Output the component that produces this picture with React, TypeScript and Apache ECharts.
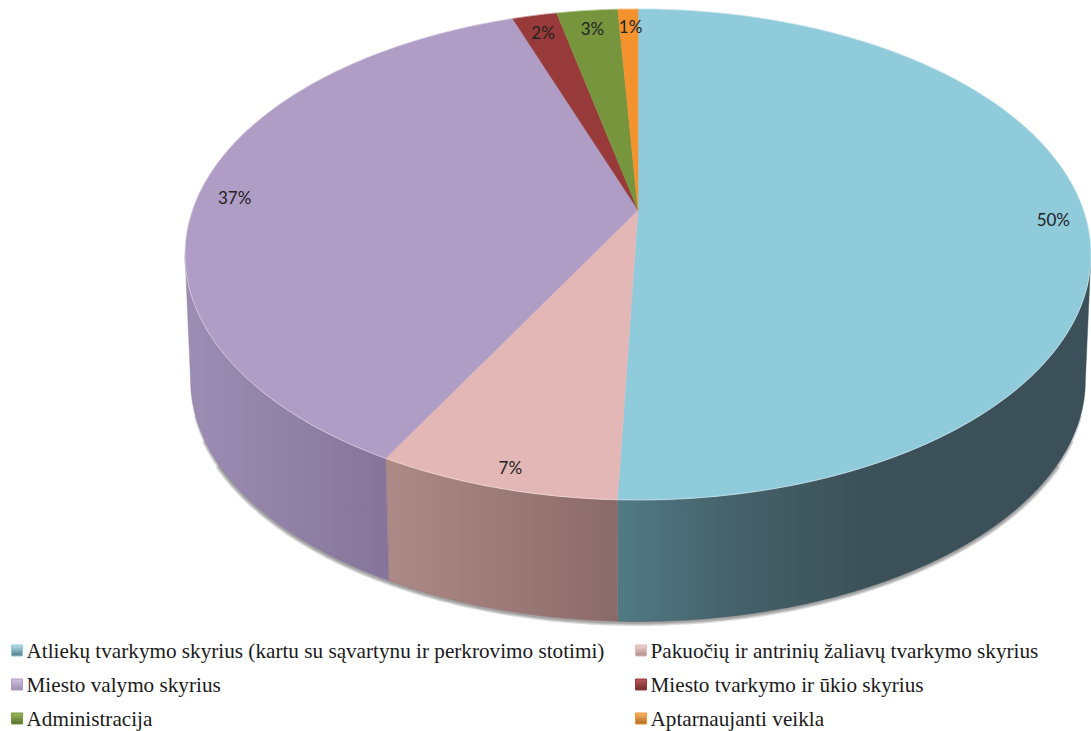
import React, { useEffect, useRef } from "react";
import * as echarts from "echarts";

const categories = [
  "Atliekų tvarkymo skyrius (kartu su sąvartynu ir perkrovimo stotimi)",
  "Pakuočių ir antrinių žaliavų tvarkymo skyrius",
  "Miesto valymo skyrius",
  "Miesto tvarkymo ir ūkio skyrius",
  "Administracija",
  "Aptarnaujanti veikla",
];
const values = [50.6, 7.3, 36.75, 1.9, 2.6, 0.85];
const percentLabels = ["50%", "7%", "37%", "2%", "3%", "1%"];
const topColors = ["#90CBDC", "#E3B7B5", "#AF9DC6", "#983A3A", "#76953C", "#F4922E"];
const wallColors = [
  ["#517A85", "#3B5058"],
  ["#AE8A87", "#8A6A69"],
  ["#9C8DB4", "#85759A"],
  ["#6E2A2A", "#5C2222"],
  ["#566D2C", "#4A5E25"],
  ["#B06A22", "#97591B"],
];
const legendIconLight = ["#B5E0EC", "#F2D5D3", "#CFC1E0", "#C05A5A", "#9DBD5C", "#FBB565"];

// perspective model of the pie disc
const CX = 638;
const K = 0.181;
const TOP = { cy: 210, rx: 445.5, ry: 237.5 };
const BOTTOM = { cy: 337, rx: 440, ry: 233 };
const LABEL_RADIUS = 0.925;
// angle (from the top, clockwise) where the disc is widest on screen: the wall starts there
const WALL_START = 1.752;
// soft shadow under the wall: stroke width and how far it stays from the wall's outer ends
const SHADOW_LAYERS = [
  { width: 7, trim: 0.34 },
  { width: 4.5, trim: 0.24 },
  { width: 2.5, trim: 0.14 },
];

const total = values.reduce((a, b) => a + b, 0);

function project(disc: { cy: number; rx: number; ry: number }, t: number, r = 1): number[] {
  const x = Math.sin(t) * r;
  const y = -Math.cos(t) * r;
  const d = 1 - K * y;
  return [CX + (disc.rx * x) / d, disc.cy + (disc.ry * y) / d];
}

function arc(disc: { cy: number; rx: number; ry: number }, a: number, b: number): number[][] {
  const n = Math.max(2, Math.ceil(Math.abs(b - a) / 0.01));
  const pts: number[][] = [];
  for (let i = 0; i <= n; i++) pts.push(project(disc, a + ((b - a) * i) / n));
  return pts;
}

function makeRenderItem(index: number) {
  return (_params: any, api: any) => {
    let before = 0;
    for (let i = 0; i < index; i++) before += values[i];
    const value = api.value(0);
    const a = (before / total) * Math.PI * 2;
    const b = ((before + value) / total) * Math.PI * 2;
    const mid = (a + b) / 2;
    const children: any[] = [];

    const wa = Math.max(a, WALL_START);
    const wb = Math.min(b, Math.PI * 2 - WALL_START);
    if (wb > wa) {
      const wall = [...arc(TOP, wa, wb), ...arc(BOTTOM, wb, wa)];
      SHADOW_LAYERS.forEach((layer) => {
        const sa = Math.max(a, WALL_START + layer.trim);
        const sb = Math.min(b, Math.PI * 2 - WALL_START - layer.trim);
        if (sb <= sa) return;
        children.push({
          type: "polyline",
          z2: 0,
          y: 1,
          shape: { points: arc(BOTTOM, sa, sb) },
          style: { fill: "none", stroke: "rgba(70,70,70,0.2)", lineWidth: layer.width },
        });
      });
      const stops =
        index === 0
          ? [
              { offset: 0, color: wallColors[0][0] },
              { offset: 0.25, color: "#456169" },
              { offset: 0.55, color: wallColors[0][1] },
              { offset: 1, color: wallColors[0][1] },
            ]
          : [
              { offset: 0, color: wallColors[index][0] },
              { offset: 1, color: wallColors[index][1] },
            ];
      children.push({
        type: "polygon",
        z2: 1,
        shape: { points: wall },
        style: {
          fill: new echarts.graphic.LinearGradient(0, 0, 1, 0, stops),
          stroke: wallColors[index][1],
          lineWidth: 0.4,
        },
      });
    }
    children.push({
      type: "polygon",
      z2: 2,
      shape: { points: [[CX, TOP.cy], ...arc(TOP, a, b)] },
      style: { fill: topColors[index], stroke: topColors[index], lineWidth: 0.5 },
    });
    children.push({
      type: "polyline",
      z2: 3,
      shape: { points: arc(TOP, a, b) },
      style: { fill: "none", stroke: "rgba(255,255,255,0.4)", lineWidth: 1 },
    });
    const [lx, ly] = project(TOP, mid, LABEL_RADIUS);
    children.push({
      type: "text",
      z2: 4,
      style: {
        text: percentLabels[index],
        x: lx + 2,
        y: ly + 5,
        fill: "#222222",
        fontSize: 17,
        fontFamily: "Lato",
        align: "center",
        verticalAlign: "middle",
      },
    });
    return { type: "group", children };
  };
}

function legendData(indices: number[]) {
  return indices.map((i) => ({
    name: categories[i],
    icon: "rect",
    itemStyle: {
      color: new echarts.graphic.LinearGradient(0, 0, 0, 1, [
        { offset: 0, color: legendIconLight[i] },
        { offset: 1, color: wallColors[i][0] },
      ]),
      borderColor: topColors[i],
      borderWidth: 1,
    },
  }));
}

const legendBase = {
  orient: "vertical" as const,
  top: 635,
  height: 200,
  itemWidth: 11,
  itemHeight: 11,
  itemGap: 13,
  selectedMode: false,
  textStyle: {
    fontFamily: "Liberation Serif",
    fontSize: 21.2,
    color: "#1a1a1a",
    padding: [0, 0, 0, -1],
  },
};

export default function App() {
  const ref = useRef<HTMLDivElement>(null);
  useEffect(() => {
    document.body.style.margin = "0";
    const chart = echarts.init(ref.current!, null, { renderer: "svg" });
    chart.setOption({
      animation: false,
      backgroundColor: "#ffffff",
      legend: [
        { ...legendBase, left: 6, data: legendData([0, 2, 4]) },
        { ...legendBase, left: 630, data: legendData([1, 3, 5]) },
      ],
      series: categories.map((name, i) => ({
        type: "custom",
        name,
        coordinateSystem: "none",
        silent: true,
        itemStyle: { color: topColors[i] },
        data: [[values[i]]],
        renderItem: makeRenderItem(i),
      })),
    });
    return () => chart.dispose();
  }, []);
  return <div ref={ref} style={{ position: "absolute", left: 0, top: 0, width: 1091, height: 731 }} />;
}
